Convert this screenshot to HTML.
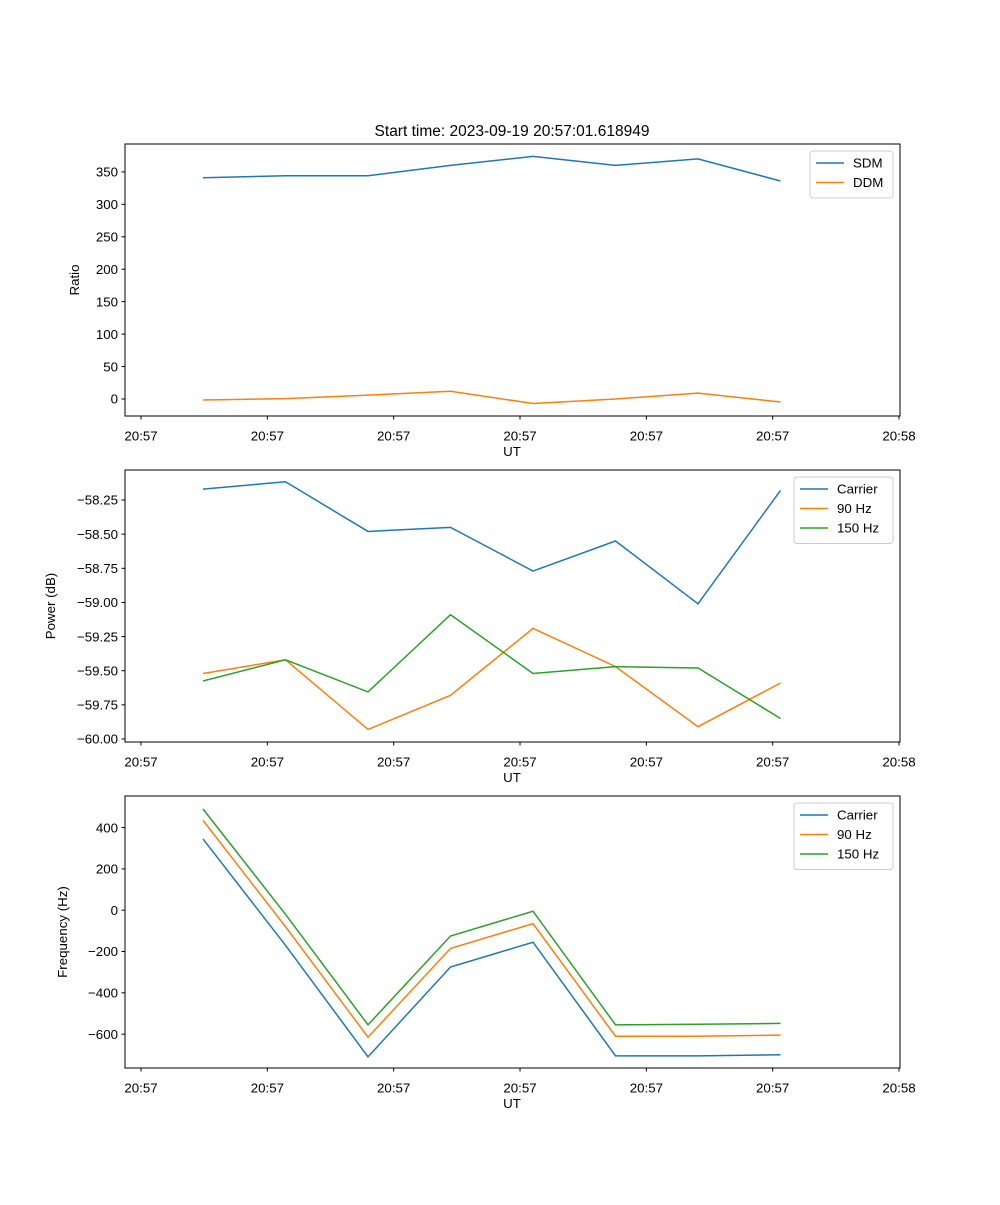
<!DOCTYPE html>
<html><head><meta charset="utf-8"><style>
body{margin:0;background:#fff}
svg text{font-family:"Liberation Sans","DejaVu Sans",sans-serif;font-size:13.3px;fill:#000}
</style></head><body>
<svg id="c" width="1000" height="1200" xmlns="http://www.w3.org/2000/svg"></svg>
<script>
const xIdx=[0,1,2,3,4,5,6,7];
const xTickLabels=["20:57","20:57","20:57","20:57","20:57","20:57","20:58"];
const xTickPos=[-0.7515,0.78,2.3113,3.8426,5.3739,6.9052,8.4365];
const sdm=[341,344,344,360,374,360,370,336];
const ddm=[-1.5,0.5,6,12,-7,0,9,-4.6];
const pCarrier=[-58.17,-58.116,-58.48,-58.45,-58.77,-58.55,-59.01,-58.18];
const p90=[-59.52,-59.42,-59.93,-59.68,-59.19,-59.47,-59.91,-59.59];
const p150=[-59.575,-59.42,-59.655,-59.09,-59.52,-59.47,-59.48,-59.85];
const fCarrier=[345,-170,-710,-275,-155,-705,-705,-700];
const f90=[435,-80,-615,-185,-65,-610,-610,-605];
const f150=[490,-20,-555,-125,-5,-555,-552,-548];
const ratioTicks=[0,50,100,150,200,250,300,350];
const powerTicks=[-60.00,-59.75,-59.50,-59.25,-59.00,-58.75,-58.50,-58.25];
const freqTicks=[-600,-400,-200,0,200,400];
const C1="#1f77b4",C2="#ff7f0e",C3="#2ca02c";
const svg=document.getElementById('c');
const NS="http://www.w3.org/2000/svg";
function mk(tag,attrs,parent){const e=document.createElementNS(NS,tag);for(const k in attrs)e.setAttribute(k,attrs[k]);(parent||svg).appendChild(e);return e;}
const L=125,R=900;
function xs(i){return 203+82.5*i;}
function panel(name,top,bottom,ymin,ymax,ticks,fmt,ylabel,ylabX,series,legend){
  const g=mk('g',{});
  
  
  const ys=v=>bottom-(v-ymin)/(ymax-ymin)*(bottom-top);
  series.forEach(s=>{
    const p=mk('polyline',{points:s.d.map((v,i)=>xs(xIdx[i])+','+ys(v)).join(' '),fill:'none',stroke:s.c,'stroke-width':1.5},g);
    
    
  });
  const fr=mk('rect',{x:L,y:top,width:R-L,height:bottom-top,fill:'none',stroke:'#000','stroke-width':1},g);
  
  
  ticks.forEach(t=>{const y=ys(t);mk('line',{x1:L-3.5,x2:L,y1:y,y2:y,stroke:'#000'},g);
    const tx=mk('text',{x:L-7,y:y+4.7,'text-anchor':'end'},g);tx.textContent=fmt(t);
    
    });
  xTickPos.forEach((t,i)=>{const x=xs(t);mk('line',{x1:x,x2:x,y1:bottom,y2:bottom+3.5,stroke:'#000'},g);
    const tx=mk('text',{x:x,y:bottom+24.5,'text-anchor':'middle'},g);tx.textContent=xTickLabels[i];
    
    });
  const xl=mk('text',{x:512,y:bottom+40,'text-anchor':'middle'},g);xl.textContent='UT';
  
  
  const cy=(top+bottom)/2;
  const yl=mk('text',{x:ylabX,y:cy,'text-anchor':'middle',transform:`rotate(-90 ${ylabX} ${cy})`},g);yl.textContent=ylabel;
  
  
  const lw=legend.w,lx=R-7-lw,ly=top+7,lh=8+series.length*19.5;
  const lb=mk('rect',{x:lx,y:ly,width:lw,height:lh,rx:3,fill:'#fff',stroke:'#ccc'},g);
  
  
  series.forEach((s,i)=>{const y=ly+12+i*19.5;
    mk('line',{x1:lx+6,x2:lx+34,y1:y,y2:y,stroke:s.c,'stroke-width':1.5},g);
    const t=mk('text',{x:lx+43,y:y+4.7},g);t.textContent=s.label;
    
    });
}
const title=mk('text',{x:512,y:136,'text-anchor':'middle',style:'font-size:15.5px'});
title.textContent='Start time: 2023-09-19 20:57:01.618949';


panel('ratio',144,416,-26.2,393,ratioTicks,v=>String(v),'Ratio',79,
  [{d:sdm,c:C1,label:'SDM',k:'sdm'},{d:ddm,c:C2,label:'DDM',k:'ddm'}],{w:83});
panel('power',470,742,-60.022,-58.03,powerTicks,v=>'\u2212'+Math.abs(v).toFixed(2),'Power (dB)',55,
  [{d:pCarrier,c:C1,label:'Carrier',k:'carrier'},{d:p90,c:C2,label:'90 Hz',k:'90hz'},{d:p150,c:C3,label:'150 Hz',k:'150hz'}],{w:99});
panel('frequency',796,1068,-764,553,freqTicks,v=>(v<0?'\u2212':'')+Math.abs(v),'Frequency (Hz)',67,
  [{d:fCarrier,c:C1,label:'Carrier',k:'carrier'},{d:f90,c:C2,label:'90 Hz',k:'90hz'},{d:f150,c:C3,label:'150 Hz',k:'150hz'}],{w:99});
</script>
</body></html>
